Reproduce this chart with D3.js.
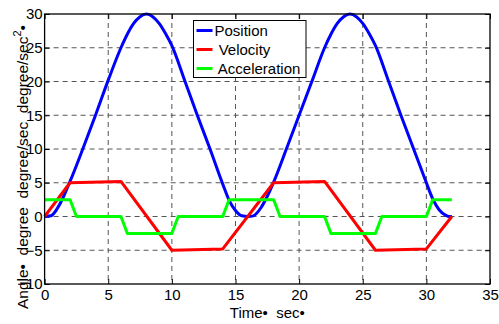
<!DOCTYPE html>
<html>
<head>
<meta charset="utf-8">
<script src="https://cdn.jsdelivr.net/npm/d3@7"></script>
<style>
  body { margin: 0; background: #fff; }
  svg { display: block; font-family: "Liberation Sans", Arial, sans-serif; }
  text { white-space: pre; }
</style>
</head>
<body>
<div id="chart"></div>
<script>
// values
const positionData = [
  [0, 0], [0.5, 0.1], [1, 1.2], [1.5, 3], [2, 5.2], [3, 10], [4, 15], [5, 20.2],
  [6, 25], [6.5, 27], [7, 28.6], [7.5, 29.6], [8, 30], [8.5, 29.6], [9, 28.6],
  [9.5, 27.1], [10, 25.3], [11, 20.2], [12, 15], [13, 10], [14, 4.8], [14.5, 2.4],
  [15, 0.9], [15.5, 0.1], [16, 0], [16.4, 0.1], [17, 1.3], [17.5, 3], [18, 5.1],
  [19, 10], [20, 15], [21, 20], [22, 25], [22.5, 27], [23, 28.6], [23.5, 29.6],
  [24, 30], [24.5, 29.6], [25, 28.6], [25.5, 27.1], [26, 25.3], [27, 20.2],
  [28, 15], [29, 10], [30, 5], [30.5, 2.6], [31, 1], [31.5, 0.2], [31.8, 0], [32, 0]
];
const velocityData = [
  [0, 0], [2, 5], [6, 5.2], [10, -5], [14, -4.8], [18, 5], [22, 5.2],
  [26, -5], [30, -4.8], [32, 0]
];
const accelerationData = [
  [0, 2.5], [2, 2.5], [2.5, 0], [6, 0], [6.5, -2.5], [10, -2.5], [10.5, 0],
  [14, 0], [14.5, 2.5], [18, 2.5], [18.5, 0], [22, 0], [22.5, -2.5], [26, -2.5],
  [26.5, 0], [30, 0], [30.5, 2.5], [32, 2.5]
];
const seriesNames = ["Position", " Velocity", " Acceleration"];
const seriesColors = ["#0000ff", "#ff0000", "#00ff00"];
const xTicks = [0, 5, 10, 15, 20, 25, 30, 35];
const yTicks = [-10, -5, 0, 5, 10, 15, 20, 25, 30];

const width = 499, height = 324;
const marginTop = 14, marginRight = 9, marginBottom = 40, marginLeft = 44.6;

const x = d3.scaleLinear().domain([0, 35]).range([marginLeft, width - marginRight]);
const y = d3.scaleLinear().domain([-10, 30]).range([height - marginBottom, marginTop]);

const svg = d3.select("#chart").append("svg")
  .attr("width", width)
  .attr("height", height)
  .attr("viewBox", [0, 0, width, height]);

// grid
const grid = svg.append("g")
  .attr("stroke", "#555")
  .attr("stroke-width", 1)
  .attr("stroke-dasharray", "5,4");
grid.selectAll(".gx")
  .data(xTicks.filter((d) => d > 0 && d < 35))
  .join("line")
  .attr("x1", (d) => x(d)).attr("x2", (d) => x(d))
  .attr("y1", marginTop).attr("y2", height - marginBottom);
grid.selectAll(".gy")
  .data(yTicks.filter((d) => d > -10 && d < 30))
  .join("line")
  .attr("y1", (d) => y(d)).attr("y2", (d) => y(d))
  .attr("x1", marginLeft).attr("x2", width - marginRight);

// axes with inward ticks on all four sides
const tickLen = 5;
svg.append("g")
  .attr("transform", `translate(0,${height - marginBottom})`)
  .call(d3.axisBottom(x).tickValues(xTicks).tickSizeInner(-tickLen).tickSizeOuter(0).tickPadding(5))
  .call((g) => g.select(".domain").remove());
svg.append("g")
  .attr("transform", `translate(0,${marginTop})`)
  .call(d3.axisTop(x).tickValues(xTicks).tickSizeInner(-tickLen).tickSizeOuter(0).tickFormat(""))
  .call((g) => g.select(".domain").remove());
svg.append("g")
  .attr("transform", `translate(${marginLeft},0)`)
  .call(d3.axisLeft(y).tickValues(yTicks).tickSizeInner(-tickLen).tickSizeOuter(0).tickPadding(2))
  .call((g) => g.select(".domain").remove());
svg.append("g")
  .attr("transform", `translate(${width - marginRight},0)`)
  .call(d3.axisRight(y).tickValues(yTicks).tickSizeInner(-tickLen).tickSizeOuter(0).tickFormat(""))
  .call((g) => g.select(".domain").remove());

svg.selectAll(".tick text")
  .attr("font-size", 15)
  .attr("font-family", "Liberation Sans, Arial, sans-serif")
  .attr("fill", "#000");
svg.selectAll(".tick line").attr("stroke", "#000");

// lines
const line = d3.line().curve(d3.curveMonotoneX).x((d) => x(d[0])).y((d) => y(d[1]));
const lineStraight = d3.line().x((d) => x(d[0])).y((d) => y(d[1]));
const seriesData = [positionData, velocityData, accelerationData];
svg.append("g")
  .attr("fill", "none")
  .attr("stroke-width", 3)
  .attr("stroke-linejoin", "round")
  .selectAll("path")
  .data(seriesData)
  .join("path")
  .attr("stroke", (_, i) => seriesColors[i])
  .attr("d", (d, i) => (i === 0 ? line(d) : lineStraight(d)));

// box
svg.append("rect")
  .attr("x", marginLeft)
  .attr("y", marginTop)
  .attr("width", width - marginLeft - marginRight)
  .attr("height", height - marginTop - marginBottom)
  .attr("fill", "none")
  .attr("stroke", "#000")
  .attr("stroke-width", 1.3);

// axis labels
svg.append("text")
  .attr("x", (marginLeft + width - marginRight) / 2)
  .attr("y", 318)
  .attr("text-anchor", "middle")
  .attr("font-size", 15)
  .text("Time\u2022  sec\u2022");

const yLabel = svg.append("text")
  .attr("transform", `translate(28,${167}) rotate(-90)`)
  .attr("text-anchor", "middle")
  .attr("font-size", 15.5);
yLabel.append("tspan").text("Angle\u2022  degree  degree/sec  degree/sec");
yLabel.append("tspan").attr("dy", -7).attr("font-size", 11).text("2");
yLabel.append("tspan").attr("dy", 7).text("\u2022");

// legend
const legendX = 193.5, legendY = 20.5, legendW = 112.5, legendH = 57, rowH = 19;
const legend = svg.append("g").attr("transform", `translate(${legendX},${legendY})`);
legend.append("rect")
  .attr("width", legendW)
  .attr("height", legendH)
  .attr("fill", "#fff")
  .attr("stroke", "#000")
  .attr("stroke-width", 1);
const items = legend.selectAll(".item")
  .data(seriesNames)
  .join("g")
  .attr("transform", (_, i) => `translate(0,${10 + i * rowH})`);
items.append("line")
  .attr("x1", 3).attr("x2", 19)
  .attr("stroke", (_, i) => seriesColors[i])
  .attr("stroke-width", 3);
items.append("text")
  .attr("x", 21)
  .attr("dy", "0.36em")
  .attr("font-size", 15)
  .text((d) => d);
</script>
</body>
</html>
